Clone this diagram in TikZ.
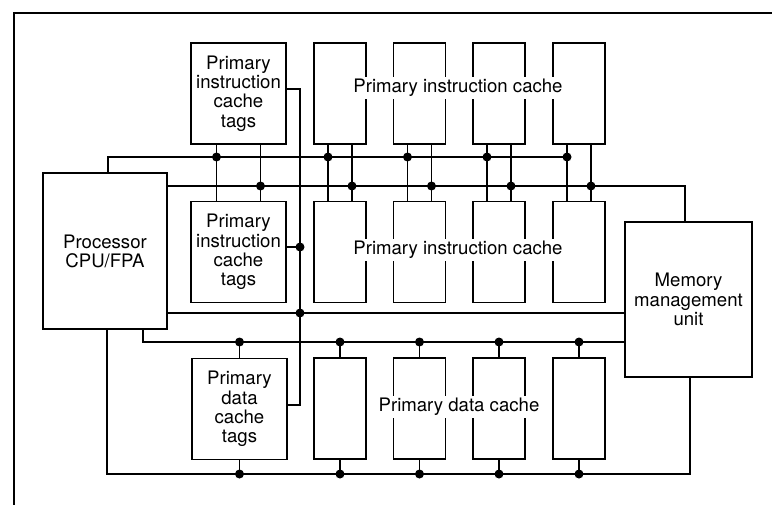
\documentclass[tikz,border=0pt]{standalone}
\usepackage{fontspec}
\setmainfont{TeX Gyre Heros}
\begin{document}
\begin{tikzpicture}[x=0.5pt, y=-0.5pt, line width=0.6pt,
    box/.style={draw, rectangle, inner sep=0pt, align=center, font=\fontsize{9.3}{9.6}\selectfont},
    tagbox/.style={box, minimum width=47.5pt, minimum height=50.5pt},
    colbox/.style={draw, rectangle, minimum width=26pt, minimum height=50.5pt},
    lbl/.style={fill=white, inner sep=1pt, font=\fontsize{9.3}{9.6}\selectfont}]
    \useasboundingbox (0,0) rectangle (772,505);
    \draw[line width=1.2pt] (772,13) -- (14,13) -- (14,505);

    % Nodes
    \node[box, minimum width=62pt, minimum height=78pt] (proc) at (105,251) {Processor\\CPU/FPA};
    \node[box, minimum width=63.5pt, minimum height=77.5pt] (mmu) at (688.5,299.5) {Memory\\management\\unit};
    \node[tagbox] (itag1) at (238.5,93.5) {Primary\\instruction\\cache\\tags};
    \node[tagbox] (itag2) at (238.5,252) {Primary\\instruction\\cache\\tags};
    \node[tagbox] (dtag) at (239.5,409) {Primary\\data\\cache\\tags};
    \foreach \i/\x in {1/340, 2/419.5, 3/499, 4/579} {
        \node[colbox] (ic\i) at (\x,93.5) {};
        \node[colbox] (jc\i) at (\x,252) {};
        \node[colbox] (dc\i) at (\x,408.5) {};
    }

    % Bus corners
    \coordinate (aL) at (108,157);
    \coordinate (aR) at (567,157);
    \coordinate (bR) at (685,186);
    \coordinate (cY) at (300,313);
    \coordinate (dL) at (143,342);
    \coordinate (eL) at (107,474);
    \coordinate (eR) at (690,474);
    \coordinate (tT) at (300,89);
    \coordinate (tM) at (300,247);
    \coordinate (tB) at (300,405);

    % Buses
    \draw (proc.north -| aL) -- (aL) -- (aR);
    \draw (proc.east |- bR) -- (bR) -- (mmu.north -| bR);
    \draw (proc.east |- cY) -- (mmu.west |- cY);
    \draw (proc.south -| dL) -- (dL) -- (mmu.west |- dL);
    \draw (proc.south -| eL) -- (eL) -- (eR) -- (mmu.south -| eR);

    % Tag lines
    \draw (itag1.east |- tT) -- (tT) -- (tB) -- (dtag.east |- tB);
    \draw (itag2.east |- tM) -- (tM);
    \fill (tM) circle (2.25pt);
    \fill (cY) circle (2.25pt);
    \draw ([xshift=-11pt]itag1.south) -- ([xshift=-11pt]itag2.north);
    \draw ([xshift=11pt]itag1.south) -- ([xshift=11pt]itag2.north);
    \fill ([xshift=-11pt]itag1.south |- aL) circle (2.25pt);
    \fill ([xshift=11pt]itag1.south |- bR) circle (2.25pt);
    \draw (dtag.north) -- (dtag.north |- dL);
    \draw (dtag.south) -- (dtag.south |- eL);
    \fill (dtag.north |- dL) circle (2.25pt);
    \fill (dtag.south |- eL) circle (2.25pt);

    % Cache lines
    \foreach \i in {1,...,4} {
        \draw ([xshift=-6pt]ic\i.south) -- ([xshift=-6pt]jc\i.north);
        \draw ([xshift=6pt]ic\i.south) -- ([xshift=6pt]jc\i.north);
        \fill ([xshift=-6pt]ic\i.south |- aL) circle (2.25pt);
        \fill ([xshift=6pt]ic\i.south |- bR) circle (2.25pt);
        \draw (dc\i.north) -- (dc\i.north |- dL);
        \draw (dc\i.south) -- (dc\i.south |- eL);
        \fill (dc\i.north |- dL) circle (2.25pt);
        \fill (dc\i.south |- eL) circle (2.25pt);
    }

    % Labels
    \node[lbl] (ilab1) at (458,88) {Primary instruction cache};
    \node[lbl] (ilab2) at (458,250) {Primary instruction cache};
    \node[lbl] (dlab) at (459,407) {Primary data cache};
\end{tikzpicture}
\end{document}
